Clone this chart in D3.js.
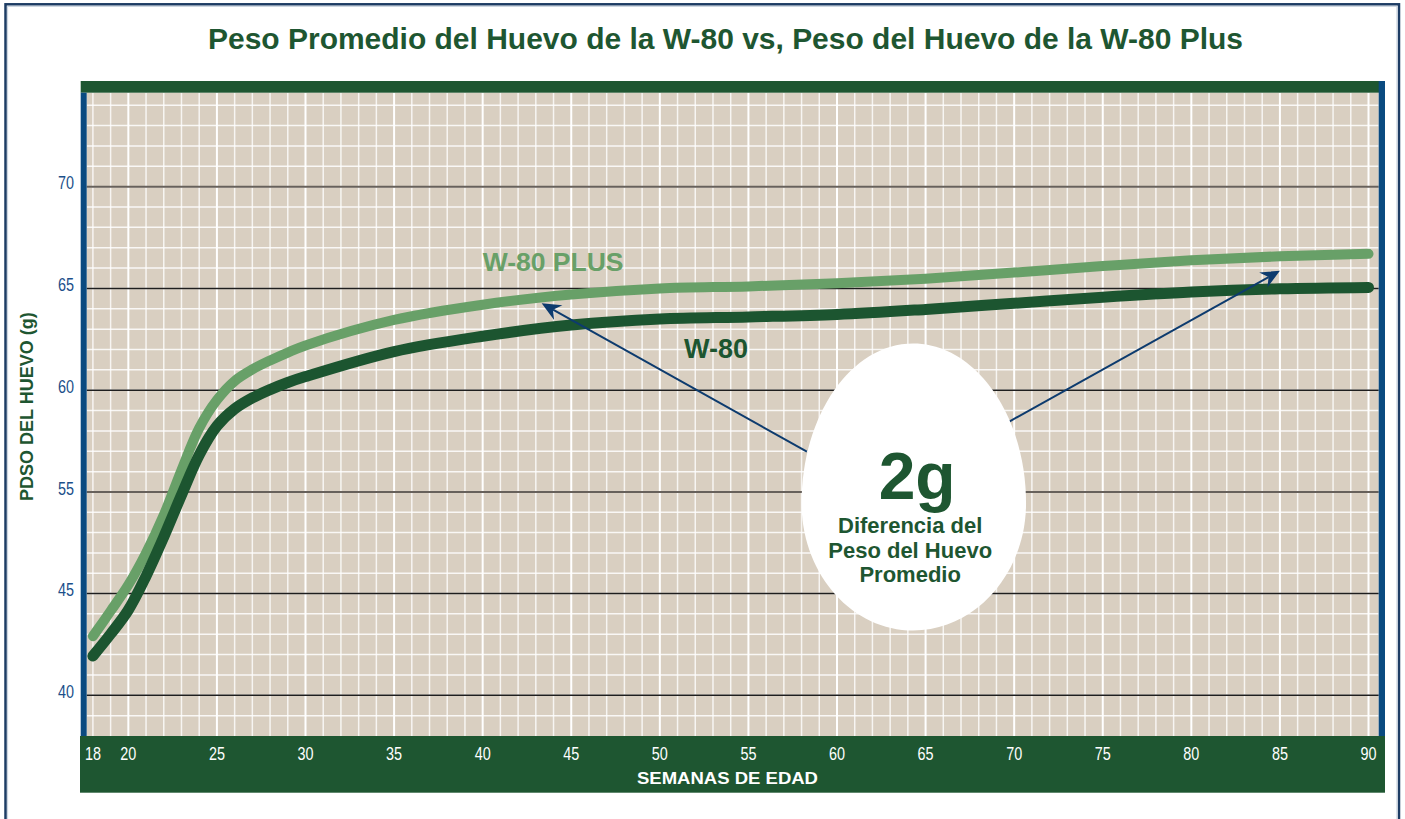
<!DOCTYPE html>
<html>
<head>
<meta charset="utf-8">
<script src="https://cdn.jsdelivr.net/npm/d3@7"></script>
<style>
  html, body { margin: 0; padding: 0; background: #ffffff; }
  svg { display: block; }
</style>
</head>
<body>
<svg id="chart" width="1405" height="819"></svg>
<script>
// ---------------- DATA ----------------
const chartTitle = "Peso Promedio del Huevo de la W-80 vs, Peso del Huevo de la W-80 Plus";
const xAxisTitle = "SEMANAS DE EDAD";
const yAxisTitle = "PDSO DEL HUEVO (g)";

const weeks    = [18, 19, 20, 21, 22, 23, 24, 25, 26, 27, 28, 29, 30, 35, 40, 45, 50, 55, 60, 65, 70, 75, 80, 85, 90];
const w80Plus  = [42.9, 44.14, 45.84, 48.99, 52.73, 56.08, 58.14, 59.52, 60.45, 61.02, 61.46, 61.85, 62.2, 63.45, 64.2, 64.7, 65.0, 65.1, 65.25, 65.48, 65.78, 66.1, 66.38, 66.58, 66.7];
const w80      = [41.93, 43.01, 44.19, 46.72, 50.57, 54.7, 56.82, 58.24, 59.08, 59.62, 60.03, 60.38, 60.67, 61.9, 62.65, 63.2, 63.5, 63.6, 63.72, 63.97, 64.27, 64.57, 64.82, 64.98, 65.05];

const xTickValues = [18, 20, 25, 30, 35, 40, 45, 50, 55, 60, 65, 70, 75, 80, 85, 90];
const yTickValues = [40, 45, 55, 60, 65, 70];   // as printed on the original axis

const seriesNames = ["W-80 PLUS", "W-80"];
const seriesLabelPos = [[40.0, 65.87], [51.37, 61.57]];   // [week, value] of label start (baseline)

// annotation arrows: [fromWeek, fromValue, toWeek, toValue]
const arrows = [[58.3, 56.98, 43.33, 64.27], [69.6, 58.4, 85.0, 65.87]];
// egg: centre week, left week, right week, top value, widest value, bottom value
const eggBox = {cx: 64.3, left: 58.0, right: 70.67, top: 62.3, mid: 53.9, bottom: 43.18};
const eggBig = "2g";
const eggLines = ["Diferencia del", "Peso del Huevo", "Promedio"];

// ---------------- STYLE ----------------
const C = {
  green: "#1e5631",
  light: "#68a068",
  dark: "#1c5530",
  blue: "#0a4a80",
  tickBlue: "#1c4f8a",
  bg: "#d9cfc1",
  arrow: "#0d3b6e",
  frame: "#1d3c64"
};
const boldFont = "'Liberation Sans', Arial, Helvetica, sans-serif";

const svg = d3.select("#chart");

// plot area
const P = {left: 86.7, right: 1378.7, top: 92.7, bottom: 736};

const x = d3.scaleLinear().domain([18, 90]).range([92.9, 1368.5]);
// the printed y axis is not uniform (45 directly followed by 55) -> piecewise linear scale
const y = d3.scaleLinear().domain([38, 45, 55, 74.6]).range([736, 593.5, 492, 93]);

// outer frame
svg.append("rect")
  .attr("x", 5.5).attr("y", 4.3).attr("width", 1393.5).attr("height", 840)
  .attr("fill", "none").attr("stroke", C.frame).attr("stroke-width", 2.5);
svg.append("rect")
  .attr("x", 7.6).attr("y", 6.4).attr("width", 1389.3).attr("height", 840)
  .attr("fill", "none").attr("stroke", "#c9d3de").attr("stroke-width", 1);

// title
svg.append("text")
  .attr("x", 725.5).attr("y", 49.3)
  .attr("text-anchor", "middle")
  .attr("font-family", boldFont).attr("font-weight", "bold")
  .attr("font-size", 29).attr("fill", C.green)
  .attr("textLength", 1035).attr("lengthAdjust", "spacingAndGlyphs")
  .text(chartTitle);

// plot background
svg.append("rect")
  .attr("x", P.left).attr("y", P.top)
  .attr("width", P.right - P.left).attr("height", P.bottom - P.top)
  .attr("fill", C.bg);

// minor grid - vertical (every week)
svg.append("g").selectAll("line").data(d3.range(18, 91)).join("line")
  .attr("x1", d => x(d)).attr("x2", d => x(d))
  .attr("y1", P.top).attr("y2", P.bottom)
  .attr("stroke", "#ffffff")
  .attr("stroke-width", d => d % 5 === 0 ? 2 : 1.5)
  .attr("opacity", d => d % 5 === 0 ? 1 : 0.8);

// minor grid - horizontal (one line per grid step of the printed scale)
const hVals = d3.range(39, 45).concat(d3.range(45, 55, 2)).concat(d3.range(55, 75));
svg.append("g").selectAll("line").data(hVals).join("line")
  .attr("x1", P.left).attr("x2", P.right)
  .attr("y1", d => y(d)).attr("y2", d => y(d))
  .attr("stroke", "#ffffff").attr("stroke-width", 1.5).attr("opacity", 0.85);

// labelled horizontal lines
svg.append("g").selectAll("line").data(yTickValues).join("line")
  .attr("x1", P.left).attr("x2", P.right)
  .attr("y1", d => y(d)).attr("y2", d => y(d))
  .attr("stroke", d => (d === 70 || d === 55) ? "#67615b" : "#1e1e1e")
  .attr("stroke-width", d => (d === 70 || d === 55) ? 2 : 1.5);

// curves
const line = d3.line().x(d => x(d[0])).y(d => y(d[1])).curve(d3.curveCatmullRom.alpha(0.5));
const seriesData = [w80Plus, w80];
const seriesColor = [C.light, C.dark];
const seriesWidth = [10, 11];
seriesData.forEach((vals, i) => {
  svg.append("path")
    .datum(weeks.map((w, j) => [w, vals[j]]))
    .attr("d", line)
    .attr("fill", "none")
    .attr("stroke", seriesColor[i])
    .attr("stroke-width", seriesWidth[i])
    .attr("stroke-linecap", "round")
    .attr("stroke-linejoin", "round");
});

// series labels
seriesNames.forEach((name, i) => {
  svg.append("text")
    .attr("x", x(seriesLabelPos[i][0])).attr("y", y(seriesLabelPos[i][1]))
    .attr("font-family", boldFont).attr("font-weight", "bold")
    .attr("font-size", i === 0 ? 26.5 : 27)
    .attr("fill", seriesColor[i])
    .text(name);
});

// arrows
arrows.forEach(a => {
  const x1 = x(a[0]), y1 = y(a[1]), x2 = x(a[2]), y2 = y(a[3]);
  const ang = Math.atan2(y2 - y1, x2 - x1);
  const L = 19, W = 8.5, N = 13;
  const cos = Math.cos(ang), sin = Math.sin(ang);
  const bx = x2 - L * cos, by = y2 - L * sin;
  const nx = x2 - N * cos, ny = y2 - N * sin;
  svg.append("line")
    .attr("x1", x1).attr("y1", y1).attr("x2", nx).attr("y2", ny)
    .attr("stroke", C.arrow).attr("stroke-width", 2);
  const pts = [
    [x2, y2],
    [bx - W * sin, by + W * cos],
    [nx, ny],
    [bx + W * sin, by - W * cos]
  ];
  svg.append("path")
    .attr("d", "M" + pts.map(p => p.join(",")).join("L") + "Z")
    .attr("fill", C.arrow);
});

// egg
{
  const cx = x(eggBox.cx), lx = x(eggBox.left), rx = x(eggBox.right);
  const ty = y(eggBox.top), my = y(eggBox.mid), by = y(eggBox.bottom);
  const hw = (rx - lx) / 2;
  const path = d3.path();
  path.moveTo(lx, my);
  path.bezierCurveTo(lx, my - (my - ty) * 0.552, cx - hw * 0.552, ty, cx, ty);
  path.bezierCurveTo(cx + hw * 0.552, ty, rx, my - (my - ty) * 0.552, rx, my);
  path.bezierCurveTo(rx, my + (by - my) * 0.552, cx + hw * 0.552, by, cx, by);
  path.bezierCurveTo(cx - hw * 0.552, by, lx, my + (by - my) * 0.552, lx, my);
  path.closePath();
  svg.append("path").attr("d", path.toString()).attr("fill", "#ffffff");

  svg.append("text")
    .attr("x", cx + 4).attr("y", 498.5)
    .attr("text-anchor", "middle")
    .attr("font-family", boldFont).attr("font-weight", "bold")
    .attr("font-size", 66).attr("fill", C.green)
    .text(eggBig);
  eggLines.forEach((t, i) => {
    svg.append("text")
      .attr("x", cx - 3).attr("y", 532.7 + i * 24.8)
      .attr("text-anchor", "middle")
      .attr("font-family", boldFont).attr("font-weight", "bold")
      .attr("font-size", 22).attr("fill", C.green)
      .text(t);
  });
}

// top green band
svg.append("rect").attr("x", 80.7).attr("y", 81).attr("width", 1385 - 80.7).attr("height", 11.7).attr("fill", C.green);
// bottom green band
svg.append("rect").attr("x", 80).attr("y", 736).attr("width", 1385 - 80).attr("height", 56.7).attr("fill", C.green);
// blue side bars
svg.append("rect").attr("x", 80.7).attr("y", 92.7).attr("width", 6).attr("height", 736 - 92.7).attr("fill", C.blue);
svg.append("rect").attr("x", 1378.7).attr("y", 81).attr("width", 6.3).attr("height", 736 - 81).attr("fill", C.blue);

// x tick labels (condensed look)
svg.append("g").selectAll("text").data(xTickValues).join("text")
  .attr("transform", d => `translate(${x(d)},760.3) scale(0.8,1)`)
  .attr("text-anchor", "middle")
  .attr("font-family", boldFont)
  .attr("font-size", 18).attr("fill", "#ffffff")
  .text(d => d);

// x axis title
svg.append("text")
  .attr("x", 727.5).attr("y", 784)
  .attr("text-anchor", "middle")
  .attr("font-family", boldFont).attr("font-weight", "bold")
  .attr("font-size", 17).attr("fill", "#ffffff")
  .attr("textLength", 181).attr("lengthAdjust", "spacingAndGlyphs")
  .text(xAxisTitle);

// y tick labels (condensed look)
svg.append("g").selectAll("text").data(yTickValues).join("text")
  .attr("transform", d => `translate(74,${y(d) + 2.7}) scale(0.8,1)`)
  .attr("text-anchor", "end")
  .attr("font-family", boldFont)
  .attr("font-size", 18).attr("fill", C.tickBlue)
  .text(d => d);

// y axis title
svg.append("text")
  .attr("transform", "translate(33.3,406.7) rotate(-90)")
  .attr("text-anchor", "middle")
  .attr("font-family", boldFont).attr("font-weight", "bold")
  .attr("font-size", 18).attr("fill", C.green)
  .text(yAxisTitle);
</script>
</body>
</html>
